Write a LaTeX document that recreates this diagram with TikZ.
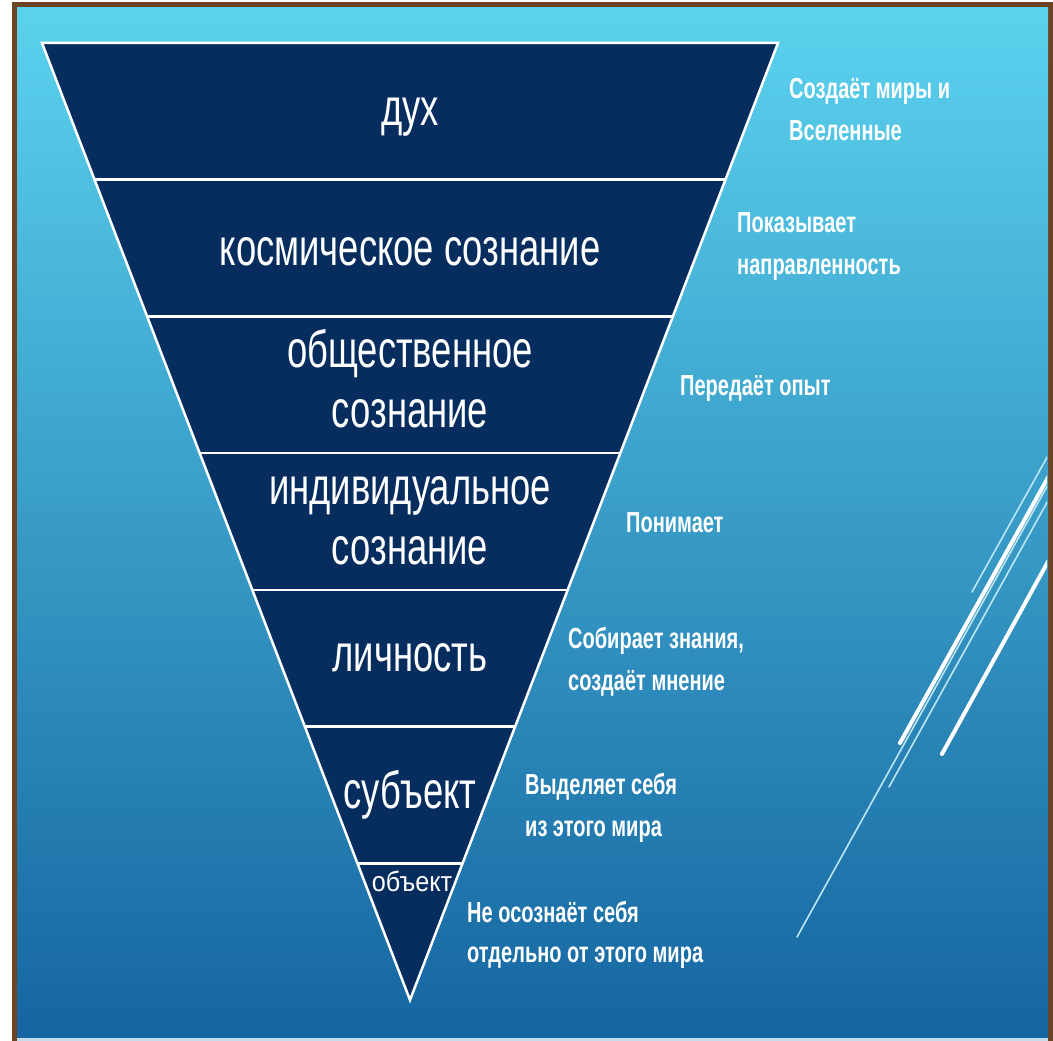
\documentclass[tikz,border=0pt]{standalone}
\usepackage{fontspec}
\setmainfont{Liberation Sans}
\newfontfamily\trifont[FakeStretch=0.7]{Liberation Sans}
\newfontfamily\smalltrifont[FakeStretch=0.9]{Liberation Sans}
\newfontfamily\lblfont[FakeStretch=0.69]{Liberation Sans}
\usetikzlibrary{calc}
\definecolor{bgtop}{HTML}{5BD2EE}
\definecolor{bgmid}{HTML}{37A2CE}
\definecolor{bgbot}{HTML}{1565A0}
\definecolor{framebrown}{HTML}{6B4423}
\definecolor{navy}{HTML}{062D5E}
\definecolor{bottomline}{HTML}{C5DCEA}
\definecolor{thinblue}{HTML}{BDE6F4}
\tikzset{
  tri/.style={font=\trifont\fontsize{52}{60}\selectfont, text=white, anchor=base, align=center, inner sep=0pt},
  trismall/.style={font=\smalltrifont\fontsize{28}{32}\selectfont, text=white, anchor=base, inner sep=0pt},
  lbl/.style={font=\lblfont\bfseries\fontsize{29}{42}\selectfont, text=white, anchor=base west, align=left, inner sep=0pt},
  bandline/.style={draw=white, line width=2.5pt},
  thickdeco/.style={draw=white, line width=4pt, line cap=round},
  thindeco/.style={draw=thinblue, line width=1.6pt, line cap=round}
}
\begin{document}
\begin{tikzpicture}[x=1pt,y=-1pt]
\useasboundingbox (0,0) rectangle (1053,1041);
\fill[white] (0,0) rectangle (1053,1041);
\fill[framebrown] (12,2) rectangle (1053,1041);
\shade[top color=bgtop, middle color=bgmid, bottom color=bgbot] (17,8) rectangle (1048,1038);
\fill[bottomline] (17,1038) rectangle (1048,1041);
% decorative lines
\begin{scope}
\clip (17,8) rectangle (1047,1038);
\coordinate (a1) at (1050,452); \coordinate (a2) at (972,592);
\coordinate (b1) at (1050,474); \coordinate (b2) at (900,743);
\coordinate (e1) at (1050,481); \coordinate (e2) at (797,937);
\coordinate (c1) at (1050,497); \coordinate (c2) at (889,787);
\coordinate (d1) at (1050,558); \coordinate (d2) at (942,754);
\draw[thindeco] (a1) -- (a2);
\draw[thickdeco] (b1) -- (b2);
\draw[thindeco] (e1) -- (e2);
\draw[thindeco] (c1) -- (c2);
\draw[thickdeco] (d1) -- (d2);
\end{scope}
% triangle
\coordinate (TL) at (42,43);
\coordinate (TR) at (778,43);
\coordinate (AP) at (410,1000);
\fill[navy] (TL) -- (TR) -- (AP) -- cycle;
\foreach \i in {1,...,6}{
  \draw[bandline] ($(TL)!\i/7!(AP)$) -- ($(TR)!\i/7!(AP)$);
}
\draw[white, line width=2.5pt, line join=miter] (TL) -- (TR) -- (AP) -- cycle;
% triangle texts (base anchor = baseline of last line)
\node[tri] (t1) at (410,125) {дух};
\node[tri] (t2) at (410,265) {космическое сознание};
\node[tri] (t3) at (410,427) {общественное\\сознание};
\node[tri] (t4) at (410,564) {индивидуальное\\сознание};
\node[tri] (t5) at (410,671) {личность};
\node[tri] (t6) at (410,808) {субъект};
\node[trismall] (t7) at (412,891) {объект};
% labels (base anchor = baseline of last line)
\node[lbl] (l1) at (789,140) {Создаёт миры и\\Вселенные};
\node[lbl] (l2) at (737,274) {Показывает\\направленность};
\node[lbl] (l3) at (680,395) {Передаёт опыт};
\node[lbl] (l4) at (626,532) {Понимает};
\node[lbl] (l5) at (568,690) {Собирает знания,\\создаёт мнение};
\node[lbl] (l6) at (525,836) {Выделяет себя\\из этого мира};
\node[lbl, font=\lblfont\bfseries\fontsize{29}{40}\selectfont] (l7) at (467,962) {Не осознаёт себя\\отдельно от этого мира};
\end{tikzpicture}
\end{document}
